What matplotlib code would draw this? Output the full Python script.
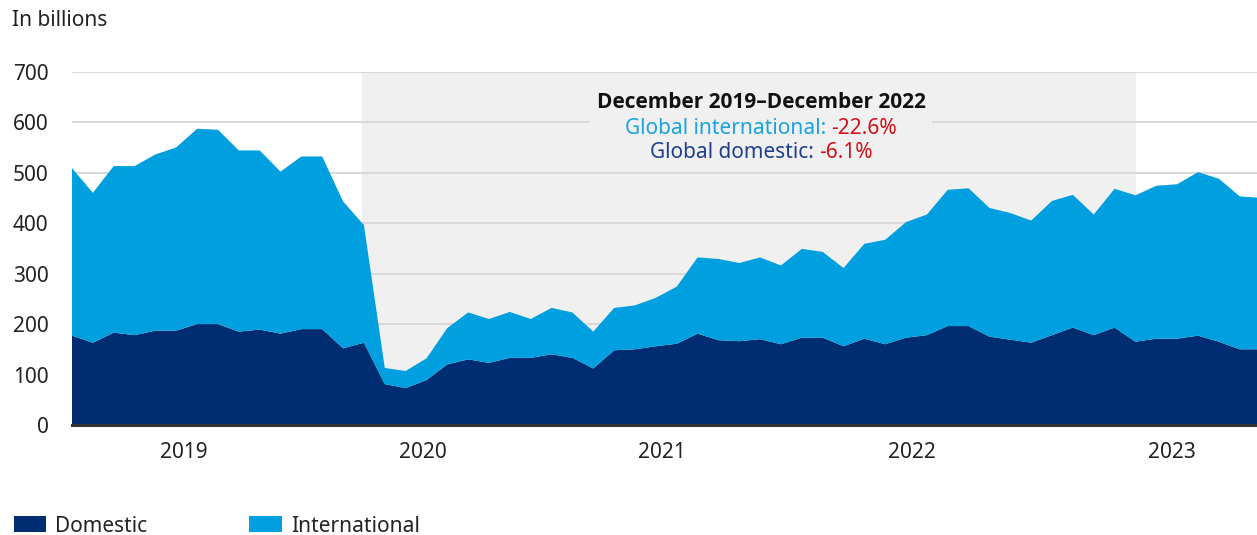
import numpy as np
import matplotlib
matplotlib.use('Agg')
import matplotlib.pyplot as plt
from matplotlib.patches import Patch, Rectangle

plt.rcParams['font.family'] = ['Noto Sans', 'DejaVu Sans']

# monthly values, in billions
domestic = [177, 163, 183, 178, 187, 187, 200, 200, 185, 189, 181, 190, 190, 152, 163, 81,
            73, 89, 120, 130, 123, 133, 133, 140, 133, 112, 148, 150, 156, 161,
            181, 168, 166, 170, 160, 173, 173, 156, 171, 160, 173, 178, 196, 196, 175, 169,
            163, 178, 193, 178, 193, 165, 171, 171, 177, 165, 150, 150]
international = [332, 297, 330, 335, 349, 363, 387, 385, 359, 355, 321, 342, 342, 291, 233, 32,
                 34, 43, 72, 93, 87, 91, 77, 92, 90, 73, 84, 87, 96, 113,
                 151, 161, 155, 162, 156, 176, 170, 155, 188, 207, 229, 239, 270, 273, 255, 251,
                 242, 266, 263, 239, 275, 290, 303, 306, 324, 323, 303, 300]
year_labels = ['2019', '2020', '2021', '2022', '2023']
year_pos = [5.36, 16.83, 28.3, 40.29, 52.76]
y_ticks = [0, 100, 200, 300, 400, 500, 600, 700]

dom_color = '#002D72'
int_color = '#009FDF'

months = np.arange(len(domestic))

fig = plt.figure(figsize=(12.57, 5.35), dpi=100)
ax = fig.add_axes([72/1257, 110/535, 1185/1257, 353.3/535])

# highlighted period
ax.axvspan(13.9, 51.03, color='#F0F0F0', zorder=0.2, lw=0)

ax.stackplot(months, domestic, international, colors=[dom_color, int_color],
             linewidth=0, zorder=1)

ax.set_xlim(0, 56.83)
ax.set_ylim(0, 700)
ax.set_yticks(y_ticks)
ax.set_xticks(year_pos)
ax.set_xticklabels(year_labels)
ax.tick_params(axis='both', length=0, labelsize=15, colors='#222222')
ax.tick_params(axis='y', pad=17)
ax.tick_params(axis='x', pad=12)
for lab in ax.get_yticklabels():
    lab.set_horizontalalignment('right')

ax.set_axisbelow(True)
ax.grid(axis='y', color='#D9D9D9', linewidth=1.5)
for s in ['left', 'right', 'top']:
    ax.spines[s].set_visible(False)
ax.spines['bottom'].set_color('#333333')
ax.spines['bottom'].set_linewidth(2.2)
ax.spines['bottom'].set_zorder(3)

# box behind annotation so the gridline is broken there
ax.add_patch(Rectangle((0.437, 0.80), 0.289, 0.12, transform=ax.transAxes,
                       facecolor='#F0F0F0', edgecolor='none', zorder=0.6))

# annotation
cx = 761 / 1257
fig.text(cx, 1 - 102/535, 'December 2019\u2013December 2022', ha='center', va='center',
         fontsize=15, fontweight='bold', color='#111111',
         family=['Open Sans', 'DejaVu Sans'])

renderer = fig.canvas.get_renderer()


def two_color_line(ypix, left, lcol, right, rcol):
    t1 = fig.text(0, 0, left, fontsize=15, color=lcol, va='center', ha='left')
    t2 = fig.text(0, 0, right, fontsize=15, color=rcol, va='center', ha='left')
    w1 = t1.get_window_extent(renderer).width
    w2 = t2.get_window_extent(renderer).width
    start = cx * 1257 - (w1 + w2) / 2
    t1.set_position((start / 1257, 1 - ypix / 535))
    t2.set_position(((start + w1) / 1257, 1 - ypix / 535))


two_color_line(128, 'Global international: ', '#1BA3E0', '-22.6%', '#D0121B')
two_color_line(153, 'Global domestic: ', '#1F3F8C', '-6.1%', '#D0121B')

fig.text(12/1257, 1 - 20/535, 'In billions', fontsize=15, color='#222222', va='center', ha='left')

handles = [Patch(facecolor=dom_color, label='Domestic'),
           Patch(facecolor=int_color, label='International')]
fig.legend(handles=handles, loc='center left', bbox_to_anchor=(14/1257, 9/535),
           ncol=2, frameon=False, fontsize=15, handlelength=1.55, handleheight=0.8,
           handletextpad=0.43, columnspacing=4.9, borderpad=0, borderaxespad=0,
           labelcolor='#222222')

fig.savefig('out.png', dpi=100)
